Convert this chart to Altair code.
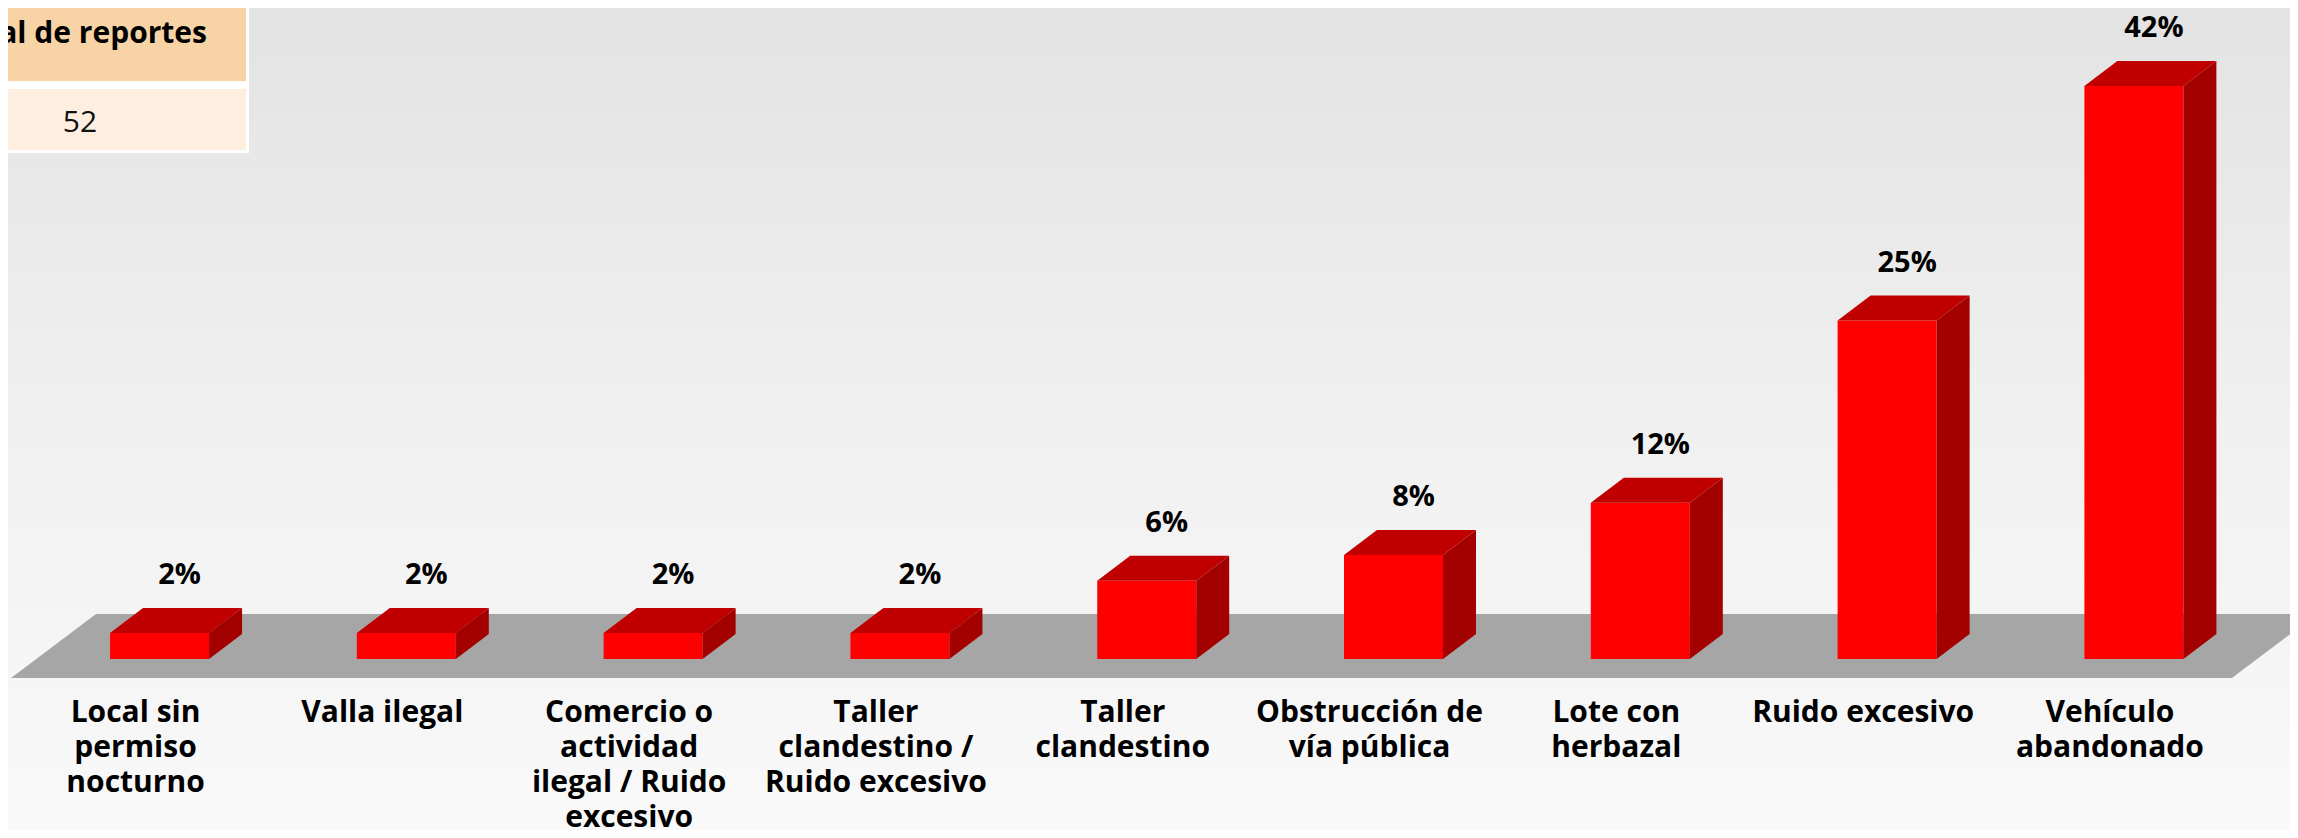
import altair as alt
import pandas as pd

# ---------------- data ----------------
categories = [
    "Local sin\npermiso\nnocturno",
    "Valla ilegal",
    "Comercio o\nactividad\nilegal / Ruido\nexcesivo",
    "Taller\nclandestino /\nRuido excesivo",
    "Taller\nclandestino",
    "Obstrucción de\nvía pública",
    "Lote con\nherbazal",
    "Ruido excesivo",
    "Vehículo\nabandonado",
]
percent = [1.92, 1.92, 1.92, 1.92, 5.77, 7.69, 11.54, 25.0, 42.31]
pct_labels = ["2%", "2%", "2%", "2%", "6%", "8%", "12%", "25%", "42%"]
table_header = "Total de reportes"
table_value = "52"

# ---------------- geometry / scales ----------------
W, H = 2282, 822
Y_ZERO_PX = 651
X_DOMAIN = [-0.614, 8.6325]
PX_X = W / (X_DOMAIN[1] - X_DOMAIN[0])   # pixels per category step
PX_Y = 13.54                              # pixels per percent
Y_DOMAIN = [-(H - Y_ZERO_PX) / PX_Y, Y_ZERO_PX / PX_Y]

HW = 49.5 / PX_X     # half bar width
DX = 33 / PX_X       # depth offset (x)
DY = 25 / PX_Y       # depth offset (y)

FLOOR_BOTTOM = -19 / PX_Y
FLOOR_TOP = 45 / PX_Y
FLOOR_DX = 85 / PX_X
FLOOR_LEFT = -0.6017
FLOOR_RIGHT = 8.397

xs = alt.Scale(domain=X_DOMAIN, nice=False, zero=False)
ys = alt.Scale(domain=Y_DOMAIN, nice=False, zero=False)

FONT = "Open Sans"

bars = pd.DataFrame({
    "i": list(range(len(categories))),
    "cat": categories,
    "v": percent,
    "lab": pct_labels,
})
bars["xl"] = bars["i"] - HW
bars["xr"] = bars["i"] + HW
bars["zero"] = 0.0
bars["vtop"] = bars["v"] + DY

# top faces (horizontal areas)
top_rows = []
for _, r in bars.iterrows():
    top_rows.append({"b": r["i"], "y": r["v"], "x": r["xl"], "x2": r["xr"]})
    top_rows.append({"b": r["i"], "y": r["v"] + DY, "x": r["xl"] + DX, "x2": r["xr"] + DX})
top_df = pd.DataFrame(top_rows)

# side faces (vertical areas)
side_rows = []
for _, r in bars.iterrows():
    side_rows.append({"b": r["i"], "x": r["xr"], "y": r["v"], "y2": 0.0})
    side_rows.append({"b": r["i"], "x": r["xr"] + DX, "y": r["v"] + DY, "y2": DY})
side_df = pd.DataFrame(side_rows)

floor_df = pd.DataFrame([
    {"y": FLOOR_BOTTOM, "x": FLOOR_LEFT, "x2": FLOOR_RIGHT},
    {"y": FLOOR_TOP, "x": FLOOR_LEFT + FLOOR_DX, "x2": FLOOR_RIGHT + FLOOR_DX},
])

# ---------------- layers ----------------
bg = alt.Chart(pd.DataFrame({"a": [0]})).mark_rect(
    color=alt.LinearGradient(
        gradient="linear",
        stops=[
            alt.GradientStop(color="#e3e3e3", offset=0),
            alt.GradientStop(color="#f0f0f0", offset=0.5),
            alt.GradientStop(color="#f9f9f9", offset=1),
        ],
        x1=0, x2=0, y1=0, y2=1,
    )
).encode(x=alt.value(0), x2=alt.value(W), y=alt.value(0), y2=alt.value(H))

floor = alt.Chart(floor_df).mark_area(orient="horizontal", color="#a6a6a6", clip=True).encode(
    y=alt.Y("y:Q", scale=ys, axis=None),
    x=alt.X("x:Q", scale=xs, axis=None, stack=None),
    x2="x2:Q",
)

front = alt.Chart(bars).mark_rect(color="#ff0000").encode(
    x=alt.X("xl:Q", scale=xs, axis=None),
    x2="xr:Q",
    y=alt.Y("v:Q", scale=ys, axis=None),
    y2="zero:Q",
)

top = alt.Chart(top_df).mark_area(orient="horizontal", color="#c00000").encode(
    y=alt.Y("y:Q", scale=ys, axis=None),
    x=alt.X("x:Q", scale=xs, axis=None, stack=None),
    x2="x2:Q",
    detail="b:N",
)

side = alt.Chart(side_df).mark_area(orient="vertical", color="#a30000").encode(
    x=alt.X("x:Q", scale=xs, axis=None),
    y=alt.Y("y:Q", scale=ys, axis=None, stack=None),
    y2="y2:Q",
    detail="b:N",
)

pct_text = alt.Chart(bars).mark_text(
    font=FONT, fontSize=29, fontWeight="bold", color="#000000",
    align="center", baseline="alphabetic", dx=20, dy=-24,
).encode(
    x=alt.X("i:Q", scale=xs, axis=None),
    y=alt.Y("vtop:Q", scale=ys, axis=None),
    text="lab:N",
)

cat_text = alt.Chart(bars).mark_text(
    font=FONT, fontSize=30, fontWeight="bold", color="#000000",
    align="center", baseline="alphabetic", dx=-24,
    lineBreak="\n", lineHeight=35,
).encode(
    x=alt.X("i:Q", scale=xs, axis=None),
    y=alt.value(714),
    text="cat:N",
)

# summary table (top-left)
tbl_border = alt.Chart(pd.DataFrame({"a": [0]})).mark_rect(color="#ffffff").encode(
    x=alt.value(0), x2=alt.value(241), y=alt.value(0), y2=alt.value(145))
tbl_head = alt.Chart(pd.DataFrame({"a": [0]})).mark_rect(color="#f8d3a6").encode(
    x=alt.value(0), x2=alt.value(238), y=alt.value(0), y2=alt.value(73))
tbl_row = alt.Chart(pd.DataFrame({"a": [0]})).mark_rect(color="#fdeee0").encode(
    x=alt.value(0), x2=alt.value(238), y=alt.value(81), y2=alt.value(142))
tbl_head_text = alt.Chart(pd.DataFrame({"t": [table_header]})).mark_text(
    font=FONT, fontSize=30, fontWeight="bold", color="#000000",
    align="right", baseline="alphabetic",
).encode(x=alt.value(199), y=alt.value(35), text="t:N")
tbl_val_text = alt.Chart(pd.DataFrame({"t": [table_value]})).mark_text(
    font=FONT, fontSize=30, fontWeight="normal", color="#111111",
    align="center", baseline="alphabetic",
).encode(x=alt.value(72), y=alt.value(124), text="t:N")

chart = alt.layer(
    bg, floor, front, top, side, pct_text, cat_text,
    tbl_border, tbl_head, tbl_row, tbl_head_text, tbl_val_text,
).properties(
    width=W, height=H, padding=0, autosize=alt.AutoSizeParams(type="none"),
    background="#f4f4f4",
).configure_view(stroke=None)

chart.save("out.html", embed_options={"renderer": "svg", "actions": False})
